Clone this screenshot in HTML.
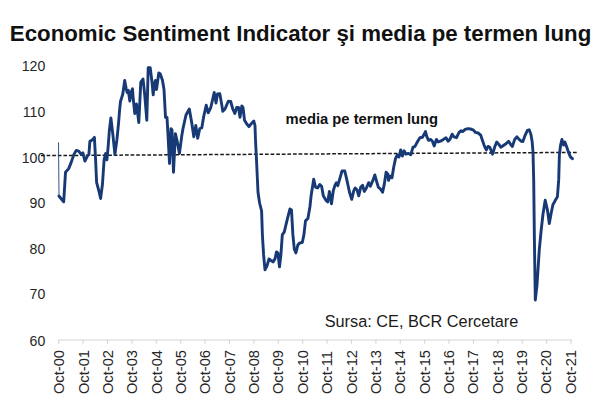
<!DOCTYPE html>
<html><head><meta charset="utf-8"><title>Economic Sentiment Indicator</title>
<style>
html,body{margin:0;padding:0;background:#fff;}
body{width:600px;height:401px;overflow:hidden;position:relative;font-family:"Liberation Sans",sans-serif;}
svg{position:absolute;left:0;top:0;}
text{font-family:"Liberation Sans",sans-serif;}
.title{font-size:22px;font-weight:bold;fill:#111;}
.yl{font-size:14.1px;fill:#262626;}
.xl{font-size:14.7px;fill:#262626;}
.ann{font-size:15.5px;font-weight:bold;fill:#111;}
.src{font-size:16.3px;fill:#1a1a1a;}
</style></head>
<body>
<svg width="600" height="401" viewBox="0 0 600 401">
<rect width="600" height="401" fill="#ffffff"/>
<text x="9.8" y="41.1" class="title" textLength="581.5" lengthAdjust="spacingAndGlyphs">Economic Sentiment Indicator şi media pe termen lung</text>
<path d="M58.2,340 H572" stroke="#d6d6d6" stroke-width="1.1" fill="none"/>
<path d="M58.7,340 v3.8 M83.1,340 v3.8 M107.5,340 v3.8 M131.9,340 v3.8 M156.3,340 v3.8 M180.7,340 v3.8 M205.1,340 v3.8 M229.5,340 v3.8 M253.9,340 v3.8 M278.3,340 v3.8 M302.7,340 v3.8 M327.1,340 v3.8 M351.5,340 v3.8 M375.9,340 v3.8 M400.3,340 v3.8 M424.7,340 v3.8 M449.1,340 v3.8 M473.5,340 v3.8 M497.9,340 v3.8 M522.3,340 v3.8 M546.7,340 v3.8 M571.1,340 v3.8 " stroke="#d6d6d6" stroke-width="1.1" fill="none"/>
<text x="45.3" y="71.0" text-anchor="end" class="yl">120</text>
<text x="45.3" y="116.9" text-anchor="end" class="yl">110</text>
<text x="45.3" y="162.6" text-anchor="end" class="yl">100</text>
<text x="45.3" y="208.4" text-anchor="end" class="yl">90</text>
<text x="45.3" y="253.7" text-anchor="end" class="yl">80</text>
<text x="45.3" y="299.0" text-anchor="end" class="yl">70</text>
<text x="45.3" y="345.5" text-anchor="end" class="yl">60</text>
<text transform="translate(64.3,394.1) rotate(-90)" class="xl">Oct-00</text>
<text transform="translate(88.7,394.1) rotate(-90)" class="xl">Oct-01</text>
<text transform="translate(113.0,394.1) rotate(-90)" class="xl">Oct-02</text>
<text transform="translate(137.4,394.1) rotate(-90)" class="xl">Oct-03</text>
<text transform="translate(161.7,394.1) rotate(-90)" class="xl">Oct-04</text>
<text transform="translate(186.1,394.1) rotate(-90)" class="xl">Oct-05</text>
<text transform="translate(210.4,394.1) rotate(-90)" class="xl">Oct-06</text>
<text transform="translate(234.8,394.1) rotate(-90)" class="xl">Oct-07</text>
<text transform="translate(259.1,394.1) rotate(-90)" class="xl">Oct-08</text>
<text transform="translate(283.4,394.1) rotate(-90)" class="xl">Oct-09</text>
<text transform="translate(307.8,394.1) rotate(-90)" class="xl">Oct-10</text>
<text transform="translate(332.2,394.1) rotate(-90)" class="xl">Oct-11</text>
<text transform="translate(356.5,394.1) rotate(-90)" class="xl">Oct-12</text>
<text transform="translate(380.9,394.1) rotate(-90)" class="xl">Oct-13</text>
<text transform="translate(405.2,394.1) rotate(-90)" class="xl">Oct-14</text>
<text transform="translate(429.6,394.1) rotate(-90)" class="xl">Oct-15</text>
<text transform="translate(453.9,394.1) rotate(-90)" class="xl">Oct-16</text>
<text transform="translate(478.3,394.1) rotate(-90)" class="xl">Oct-17</text>
<text transform="translate(502.6,394.1) rotate(-90)" class="xl">Oct-18</text>
<text transform="translate(527.0,394.1) rotate(-90)" class="xl">Oct-19</text>
<text transform="translate(551.3,394.1) rotate(-90)" class="xl">Oct-20</text>
<text transform="translate(575.6,394.1) rotate(-90)" class="xl">Oct-21</text>
<path d="M41,155.6 L577.5,152.4" stroke="#1a1a1a" stroke-width="1.5" stroke-dasharray="3.7,1.9" fill="none"/>
<path d="M58.5,142.4 L59.0,196.0" stroke="#1c3f7c" stroke-width="0.9" fill="none"/>
<path d="M59.0,196.0 L59.5,196.8 L63.7,201.8 L65.5,172.3 L68.7,168.6 L71.2,162.4 L73.7,154.9 L76.2,150.4 L78.7,151.1 L81.2,154.4 L82.9,152.9 L84.9,161.1 L87.4,156.1 L88.9,154.4 L89.9,141.2 L92.4,139.9 L94.4,137.4 L95.6,159.9 L96.6,182.3 L98.6,189.8 L100.6,198.5 L102.4,184.8 L104.1,159.9 L105.6,153.6 L106.9,159.9 L108.1,147.4 L109.4,130.0 L110.9,118.0 L112.9,134.9 L114.9,154.4 L116.9,139.9 L118.6,122.5 L119.6,110.0 L120.5,101.5 L122.8,94.0 L124.7,80.5 L126.2,88.8 L127.2,92.5 L128.3,90.2 L129.8,101.0 L131.0,92.5 L132.5,88.8 L133.2,98.5 L134.8,113.5 L136.5,104.0 L138.8,122.5 L140.8,82.0 L143.0,79.0 L144.5,92.5 L146.8,120.2 L148.2,67.8 L150.2,67.8 L152.0,82.0 L153.2,94.8 L154.2,85.0 L155.4,80.5 L156.5,89.5 L158.8,73.0 L160.2,73.8 L162.5,80.5 L164.0,89.5 L165.5,117.4 L167.0,117.4 L168.0,134.9 L169.5,163.5 L171.0,128.6 L172.0,129.9 L173.5,172.3 L175.4,133.6 L177.4,142.4 L179.4,153.6 L181.9,134.9 L183.0,128.5 L186.0,115.0 L189.3,109.0 L191.7,122.5 L193.8,136.8 L195.8,125.5 L197.7,138.2 L199.8,128.5 L201.8,127.8 L203.7,116.5 L206.2,105.2 L208.2,112.8 L210.8,107.5 L214.2,92.5 L216.0,103.0 L217.5,94.0 L219.8,93.7 L221.2,101.5 L222.8,111.2 L225.0,109.0 L228.3,101.2 L230.7,101.5 L232.8,109.0 L234.8,113.5 L236.7,107.5 L238.5,107.5 L240.0,117.2 L241.8,106.0 L243.0,107.5 L244.5,120.2 L246.8,124.0 L249.0,126.7 L251.7,123.2 L253.8,121.0 L255.0,125.5 L255.5,140.0 L256.5,160.0 L258.0,192.3 L259.6,203.0 L261.6,211.0 L262.4,235.0 L263.6,254.9 L265.0,269.9 L267.0,265.9 L269.0,258.9 L271.0,260.5 L273.0,261.9 L275.0,258.9 L276.5,251.9 L277.9,252.9 L279.5,266.9 L280.9,254.9 L282.3,234.9 L284.3,231.9 L286.9,220.9 L289.9,209.0 L291.5,210.0 L292.9,234.9 L294.3,248.9 L295.9,252.9 L297.9,244.9 L299.9,242.9 L302.3,242.5 L303.9,234.9 L305.5,220.9 L307.9,218.5 L309.9,207.0 L311.1,195.8 L313.7,179.2 L315.5,187.1 L317.6,188.0 L319.8,184.5 L321.6,186.2 L323.3,195.8 L325.9,200.2 L327.7,201.9 L329.4,191.4 L331.5,203.7 L333.3,190.6 L335.0,185.3 L336.4,182.7 L337.8,185.7 L339.9,178.4 L342.0,171.0 L344.8,171.0 L346.9,180.1 L349.5,192.3 L351.7,199.3 L353.8,190.6 L355.2,188.0 L357.0,189.7 L358.7,195.8 L360.8,187.1 L362.6,185.3 L364.3,191.4 L366.4,188.0 L368.7,182.7 L370.4,186.2 L373.0,180.1 L374.8,174.9 L376.5,181.0 L378.3,187.1 L380.3,188.8 L382.6,192.3 L384.4,183.6 L386.1,172.3 L387.8,174.0 L388.5,180.4 L390.2,176.0 L392.0,177.8 L393.7,167.3 L395.5,158.6 L397.2,155.1 L399.0,156.9 L400.7,149.9 L402.4,156.0 L404.2,150.8 L405.9,154.2 L408.5,153.4 L410.8,154.8 L412.9,147.3 L415.0,146.4 L417.3,142.0 L419.9,137.7 L422.5,137.3 L425.5,131.6 L426.9,136.8 L428.6,140.3 L430.7,139.4 L432.4,141.2 L434.2,146.0 L436.4,139.4 L438.2,142.0 L440.5,141.2 L443.4,139.4 L446.0,137.7 L448.1,141.2 L449.9,139.4 L452.1,134.2 L453.9,136.8 L456.5,137.7 L459.1,132.4 L460.9,130.7 L462.6,131.6 L465.2,129.3 L467.8,128.6 L470.5,129.0 L473.1,129.8 L475.5,132.4 L478.1,133.0 L480.7,135.1 L482.4,140.3 L484.5,146.4 L486.3,149.9 L488.0,146.4 L489.8,147.3 L492.6,154.2 L494.6,147.3 L496.7,142.0 L499.0,144.6 L500.8,147.3 L503.4,145.5 L506.0,143.8 L508.6,141.2 L510.7,144.6 L512.4,146.4 L514.7,139.4 L517.0,136.8 L519.1,139.4 L521.2,141.2 L522.9,141.5 L525.2,135.1 L527.4,130.3 L529.2,129.8 L530.9,134.2 L532.1,141.2 L533.0,152.0 L533.7,180.0 L534.4,239.8 L535.3,300.0 L537.0,285.2 L539.3,249.6 L541.2,230.0 L542.9,214.8 L545.2,200.3 L547.4,209.8 L549.3,223.5 L551.2,213.0 L552.9,204.8 L554.9,201.1 L557.4,196.8 L558.7,179.9 L559.4,154.9 L560.6,145.0 L561.9,139.5 L563.6,145.0 L564.9,142.0 L566.9,147.5 L568.6,152.4 L570.4,156.9 L572.4,158.7" stroke="#173a76" stroke-width="2.9" stroke-linejoin="round" stroke-linecap="round" fill="none"/>
<text x="285.6" y="123.8" class="ann" textLength="152.5" lengthAdjust="spacingAndGlyphs">media pe termen lung</text>
<text x="324.7" y="327.1" class="src">Sursa: CE, BCR Cercetare</text>
</svg>
</body></html>
